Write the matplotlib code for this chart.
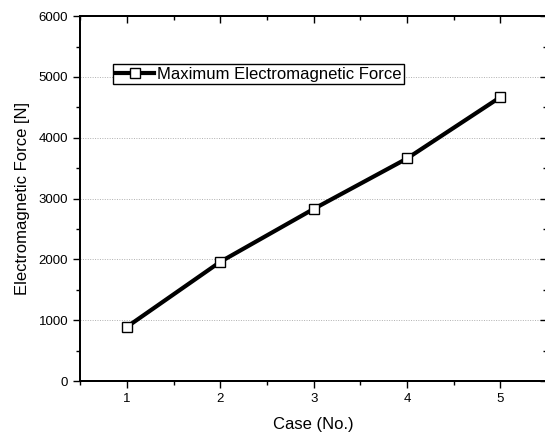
import numpy as np
import matplotlib.pyplot as plt
from matplotlib.ticker import MultipleLocator

plt.rcParams['font.family'] = ['Liberation Sans', 'DejaVu Sans']

# values
cases = [1, 2, 3, 4, 5]
force = [890, 1960, 2830, 3660, 4670]
series_label = "Maximum Electromagnetic Force"

fig = plt.figure(figsize=(5.45, 4.37), dpi=100)
ax = fig.add_axes([0.147, 0.128, 0.857, 0.835])

ax.plot(cases, force, color='black', lw=3, marker='s', ms=7,
        mfc='white', mec='black', mew=1, label=series_label, zorder=3)

ax.set_xlim(0.5, 5.5)
ax.set_ylim(0, 6000)
ax.xaxis.set_major_locator(MultipleLocator(1))
ax.xaxis.set_minor_locator(MultipleLocator(0.5))
ax.yaxis.set_major_locator(MultipleLocator(1000))
ax.yaxis.set_minor_locator(MultipleLocator(500))

ax.tick_params(which='both', direction='out', labelsize=9.5, width=1)
ax.tick_params(which='major', length=5)
ax.tick_params(which='minor', length=3)

# right / top spines: inward ticks, no labels
axr = ax.twinx()
axr.set_ylim(ax.get_ylim())
axr.yaxis.set_major_locator(MultipleLocator(1000))
axr.yaxis.set_minor_locator(MultipleLocator(500))
axr.tick_params(which='both', direction='in', labelright=False, width=1)
axr.tick_params(which='major', length=5)
axr.tick_params(which='minor', length=3)

axt = ax.twiny()
axt.set_xlim(ax.get_xlim())
axt.xaxis.set_major_locator(MultipleLocator(1))
axt.xaxis.set_minor_locator(MultipleLocator(0.5))
axt.tick_params(which='both', direction='in', labeltop=False, width=1)
axt.tick_params(which='major', length=5)
axt.tick_params(which='minor', length=3)

for a in (ax, axr, axt):
    for s in a.spines.values():
        s.set_linewidth(1.2)

ax.grid(axis='y', which='major', linestyle=(0, (1, 1.5)), color='#b0b0b0', lw=0.7, zorder=0)

ax.set_xlabel("Case (No.)", fontsize=12, labelpad=9)
ax.set_ylabel("Electromagnetic Force [N]", fontsize=12, labelpad=6)

leg = axt.legend(*ax.get_legend_handles_labels(), loc='upper left',
                 bbox_to_anchor=(0.071, 0.868), fontsize=12,
                 fancybox=False, framealpha=1, edgecolor='black',
                 handlelength=2.3, borderpad=0.15, handletextpad=0.15,
                 borderaxespad=0)
leg.get_frame().set_linewidth(1)

fig.savefig("out.png", dpi=100)
